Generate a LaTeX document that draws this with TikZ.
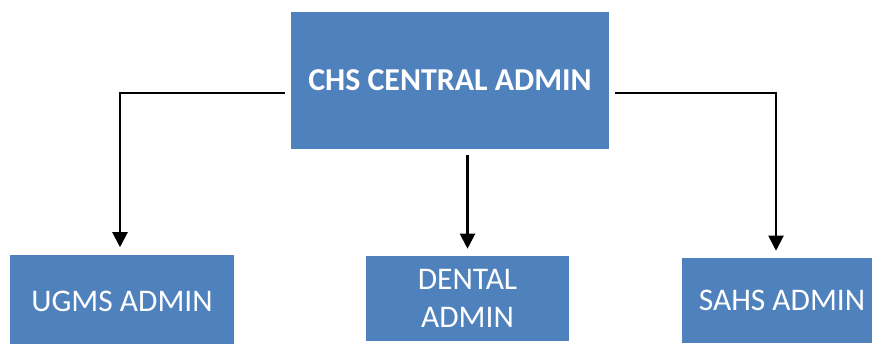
\documentclass[tikz,border=0pt]{standalone}
\usepackage{fontspec}
\setmainfont{Carlito}
\usepackage{tikz}
\usetikzlibrary{shapes.geometric, arrows.meta, calc}
\definecolor{adminblue}{HTML}{4F81BD}
\tikzstyle{centraladmin} = [rectangle, font=\fontsize{22.7}{27}\selectfont\bfseries, minimum width=7.95cm, minimum height=3.425cm, text centered, fill=adminblue, text=white]
\tikzstyle{unitadmin} = [rectangle, font=\fontsize{22.4}{26.5}\selectfont, minimum height=2.125cm, text centered, fill=adminblue, text=white]
\tikzstyle{arrow} = [line width=1.5pt, -{Triangle[length=0.375cm, width=0.375cm]}, shorten <=0.15cm, shorten >=0.175cm]

\begin{document}
\begin{tikzpicture}[node distance=5.45cm]
\useasboundingbox (0,0) rectangle (21.8,-8.575);
\node (central) [centraladmin] at (11.25,-2.0125) {CHS CENTRAL ADMIN};
\node (ugms) [unitadmin, below of=central, xshift=-8.2cm, yshift=-0.075cm, minimum width=5.6cm, minimum height=2.35cm] {UGMS ADMIN};
\node (dental) [unitadmin, below of=central, xshift=0.4375cm, minimum width=5.075cm, text width=4cm] {DENTAL ADMIN};
\node (sahs) [unitadmin, below of=central, xshift=8.3cm, yshift=-0.05cm, minimum width=5cm] {SAHS ADMIN};

\draw [arrow] ([yshift=-0.305cm]central.west) -| ([xshift=-0.05cm]ugms.north);
\draw [arrow] (central.south -| dental.north) -- (dental.north);
\draw [arrow] ([yshift=-0.305cm]central.east) -| ([xshift=-0.15cm]sahs.north);
\end{tikzpicture}
\end{document}
